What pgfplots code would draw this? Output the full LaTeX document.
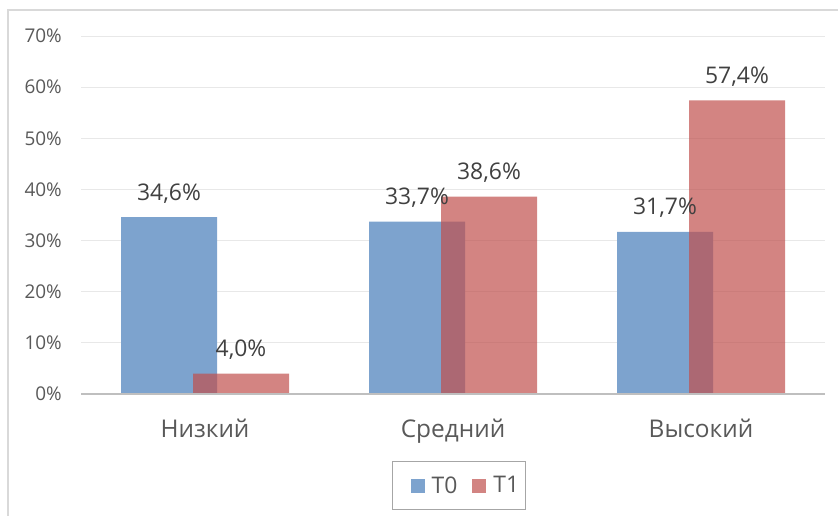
\documentclass[border=0pt]{standalone}
\usepackage{pgfplots}
\pgfplotsset{compat=1.18}
\usepackage{fontspec}
\setmainfont{Open Sans}
\definecolor{blueT}{HTML}{7DA3CE}
\definecolor{redT}{HTML}{C0504D}
\definecolor{txt}{HTML}{404040}
\definecolor{ticktxt}{HTML}{595959}
\begin{document}
\begin{tikzpicture}[x=1bp,y=1bp]
\useasboundingbox (0,0) rectangle (838,-516);
\draw[line width=2bp, color=black!15] (8,-530) -- (8,-10) -- (850,-10);
\begin{axis}[
  at={(81bp,-394bp)}, anchor=south west,
  scale only axis, width=744bp, height=358bp,
  xmin=-0.5, xmax=2.5, ymin=0, ymax=70,
  ytick={0,10,20,30,40,50,60,70},
  yticklabels={0\%,10\%,20\%,30\%,40\%,50\%,60\%,70\%},
  xtick={0,1,2}, xticklabels={Низкий,Средний,Высокий},
  major tick length=0pt,
  axis line style={draw=none},
  ymajorgrids, grid style={color=black!9, line width=1bp},
  yticklabel style={font=\fontsize{19}{22}\selectfont, text=ticktxt, anchor=east, inner sep=0pt, xshift=-19bp},
  xticklabel style={font=\fontsize{24.5}{28}\selectfont, text=ticktxt, anchor=base, inner sep=0pt, yshift=-43bp},
  legend style={at={(0.508,-0.2556)}, anchor=center, draw=black!35, line width=1bp,
    font=\fontsize{23}{26}\selectfont, text=ticktxt, inner xsep=6bp, inner ysep=15bp,
    nodes={inner sep=0pt},
    /tikz/every odd column/.append style={column sep=7bp},
    /tikz/every even column/.append style={column sep=3bp}},
  legend columns=2,
  legend image code/.code={\path (-12bp,0bp); \fill[#1] (0bp,-7bp) rectangle (14bp,7bp);},
  clip=false,
]
\addplot[ybar, bar width=96bp, bar shift=-36bp, fill=blueT, draw=none,
  nodes near coords, point meta=explicit symbolic,
  every node near coord/.append style={anchor=base, xshift=-36bp, yshift=17bp, font=\fontsize{23}{26}\selectfont, text=txt}]
  coordinates {(0,34.6) [{34,6\%}] (1,33.7) [{33,7\%}] (2,31.7) [{31,7\%}]};
\addlegendentry{T0}
\addplot[ybar, bar width=96bp, bar shift=36bp, fill=redT, fill opacity=0.7, draw=none,
  nodes near coords, point meta=explicit symbolic,
  every node near coord/.append style={anchor=base, xshift=36bp, yshift=17bp, font=\fontsize{23}{26}\selectfont, text=txt, text opacity=1}]
  coordinates {(0,4.0) [{4,0\%}] (1,38.6) [{38,6\%}] (2,57.4) [{57,4\%}]};
\addlegendentry{T1}
\draw[black!25, line width=2bp] (rel axis cs:0,0) -- (rel axis cs:1,0);
\end{axis}
\end{tikzpicture}
\end{document}
